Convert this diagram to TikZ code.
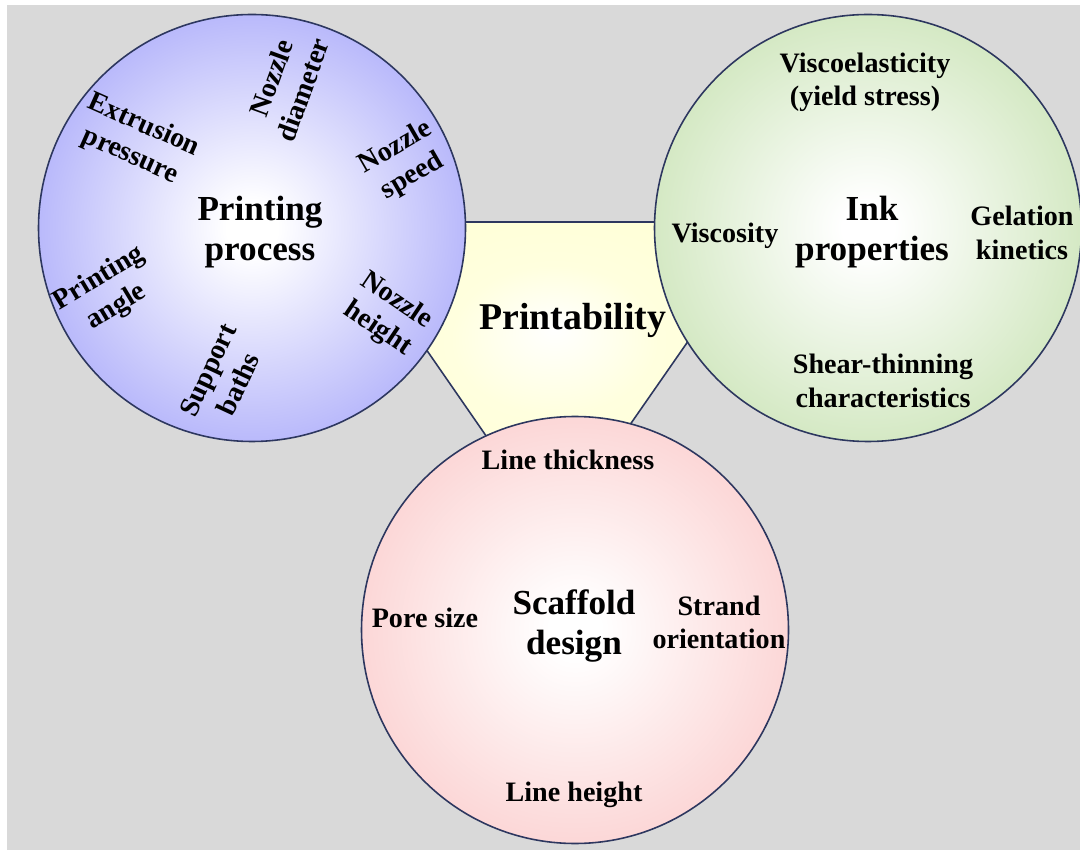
\documentclass[tikz,border=0pt]{standalone}
\usepackage{fontspec}
\setmainfont{Liberation Serif}

\definecolor{bggray}{RGB}{217,217,217}
\definecolor{rimblue}{RGB}{45,55,95}
\definecolor{procblue}{RGB}{145,145,248}
\definecolor{inkgreen}{RGB}{188,220,162}
\definecolor{scafpink}{RGB}{250,192,192}
\definecolor{printyellow}{RGB}{255,255,200}

\pgfdeclareradialshading{procglow}{\pgfpoint{0bp}{0bp}}{color(0bp)=(white); color(3bp)=(white); color(28bp)=(procblue!72); color(50bp)=(procblue)}
\pgfdeclareradialshading{inkglow}{\pgfpoint{0bp}{0bp}}{color(0bp)=(white); color(3bp)=(white); color(28bp)=(inkgreen!72); color(50bp)=(inkgreen)}
\pgfdeclareradialshading{scafglow}{\pgfpoint{0bp}{0bp}}{color(0bp)=(white); color(3bp)=(white); color(28bp)=(scafpink!72); color(50bp)=(scafpink)}
\pgfdeclareradialshading{printglow}{\pgfpoint{0bp}{8bp}}{color(0bp)=(white); color(12bp)=(printyellow!60); color(50bp)=(printyellow)}

\begin{document}
\begin{tikzpicture}[every node/.style={font=\bfseries\fontsize{16}{19}\selectfont,
					align=center, inner sep=0pt},
				blob/.style={circle, draw=rimblue, line width=0.9pt, shade,
					minimum size=8.54cm},
				title/.style={font=\bfseries\fontsize{20}{23}\selectfont}]
				\useasboundingbox (0,0) rectangle (21.6,17);
				\fill[white] (0,0) rectangle (21.6,17);
				\fill[bggray] (0.14,0) rectangle (21.6,16.9);

				% triangle behind the three circles
				\coordinate (tl) at (6.76,12.56);
				\coordinate (tr) at (15.42,12.56);
				\coordinate (tb) at (11.08,6.32);
				\draw[rimblue, line width=0.9pt, shade, shading=printglow] (tl) -- (tr) -- (tb) -- cycle;
				\node[font=\bfseries\fontsize{21.5}{25}\selectfont] (printT) at (11.46,10.59) {Printability};

				% printing process
				\node[blob, shading=procglow] (proc) at (5.04,12.44) {};
				\node[title] (procT) at (5.2,12.36) {Printing\\process};
				\node[rotate=-24] (extr) at (2.74,14.18) {Extrusion\\pressure};
				\node[rotate=70] (ndia) at (5.74,15.32) {Nozzle\\diameter};
				\node[rotate=30] (nspd) at (8.08,13.76) {Nozzle\\speed};
				\node[rotate=-34] (nhgt) at (7.74,10.7) {Nozzle\\height};
				\node[rotate=31] (pang) at (2.16,11.14) {Printing\\angle};
				\node[rotate=65] (bath) at (4.46,9.46) {Support\\baths};

				% ink properties
				\node[blob, shading=inkglow] (ink) at (17.36,12.44) {};
				\node[title] (inkT) at (17.44,12.36) {Ink\\properties};
				\node (visel) at (17.3,15.35) {Viscoelasticity\\(yield stress)};
				\node (visc) at (14.5,12.29) {Viscosity};
				\node (gel) at (20.44,12.34) {Gelation\\kinetics};
				\node (shear) at (17.66,9.38) {Shear-thinning\\characteristics};

				% scaffold design
				\node[blob, shading=scafglow] (scaf) at (11.5,4.4) {};
				\node[title] (scafT) at (11.48,4.48) {Scaffold\\design};
				\node (lthk) at (11.36,7.8) {Line thickness};
				\node (pore) at (8.5,4.64) {Pore size};
				\node (strand) at (14.38,4.55) {Strand\\orientation};
				\node (lhgt) at (11.48,1.1) {Line height};
			\end{tikzpicture}
\end{document}
